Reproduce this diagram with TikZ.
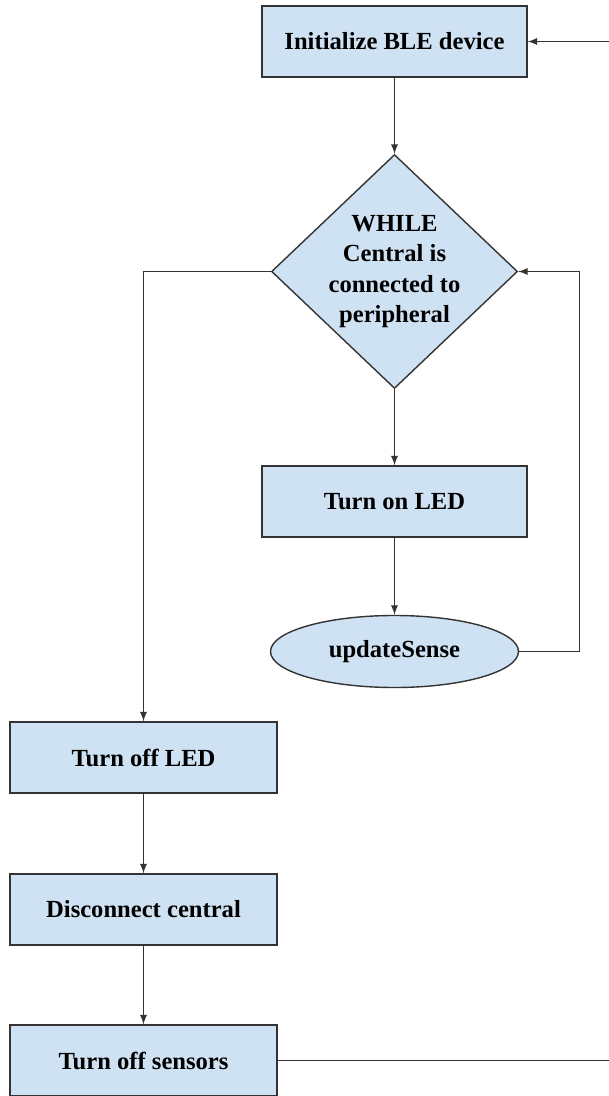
\documentclass[tikz,border=0pt]{standalone}
\usepackage{fontspec}
\setmainfont{Liberation Serif}
\usepackage{tikz}
\usetikzlibrary{arrows,shapes.geometric,positioning}
\definecolor{boxblue}{HTML}{CFE2F3}
\definecolor{edgegray}{HTML}{333333}
\tikzstyle{block} = [rectangle, draw=edgegray, fill=boxblue, line width=0.7pt,
    minimum width=132.5pt, minimum height=35.5pt, text centered,
    font=\bfseries\fontsize{12.3}{15.3}\selectfont]
\tikzstyle{decision} = [diamond, draw=edgegray, fill=boxblue, line width=0.7pt,
    aspect=1.05, inner sep=-4pt, minimum width=123pt, minimum height=117pt,
    align=center, font=\bfseries\fontsize{12.3}{15.3}\selectfont]
\tikzstyle{callout} = [ellipse, draw=edgegray, fill=boxblue, line width=0.7pt,
    inner sep=0pt, minimum width=124pt, minimum height=36pt,
    font=\bfseries\fontsize{12.3}{15.3}\selectfont]
\tikzstyle{line} = [draw=edgegray, line width=0.65pt, -latex]

\begin{document}
\begin{tikzpicture}[align=center,node distance=115pt]
    \useasboundingbox (0,0) rectangle (304.5pt,-548pt);
    \coordinate (rightedge) at (304.5pt,0);
    % Place nodes
    \node [block] (init) at (197.25pt,-20.75pt) {Initialize BLE device};
    \node [decision, below of=init] (while) {WHILE\\ Central is\\ connected to\\ peripheral};
    \node [block, below of=while] (ledon) {Turn on LED};
    \node [callout, below of=ledon, yshift=40pt] (update) {updateSense};
    \node [block, minimum width=133.5pt, below of=while, xshift=-125.5pt, yshift=-128pt] (ledoff) {Turn off LED};
    \node [block, minimum width=133.5pt, below of=ledoff, yshift=39pt] (disc) {Disconnect central};
    \node [block, minimum width=133.5pt, below of=disc, yshift=39.5pt] (sensors) {Turn off sensors};
    % Draw edges
    \path [line] (init.east -| rightedge) -- (init);
    \path [line] (init) -- (while);
    \path [line] (while) -- (ledon);
    \path [line] (ledon) -- (update);
    \path [line] (update.east) -- ++(30pt,0) |- (while.east);
    \path [line] (while.west) -| (ledoff);
    \path [line] (ledoff) -- (disc);
    \path [line] (disc) -- (sensors);
    \draw [draw=edgegray, line width=0.65pt] (sensors.east) -- (sensors.east -| rightedge);

\end{tikzpicture}
\end{document}
